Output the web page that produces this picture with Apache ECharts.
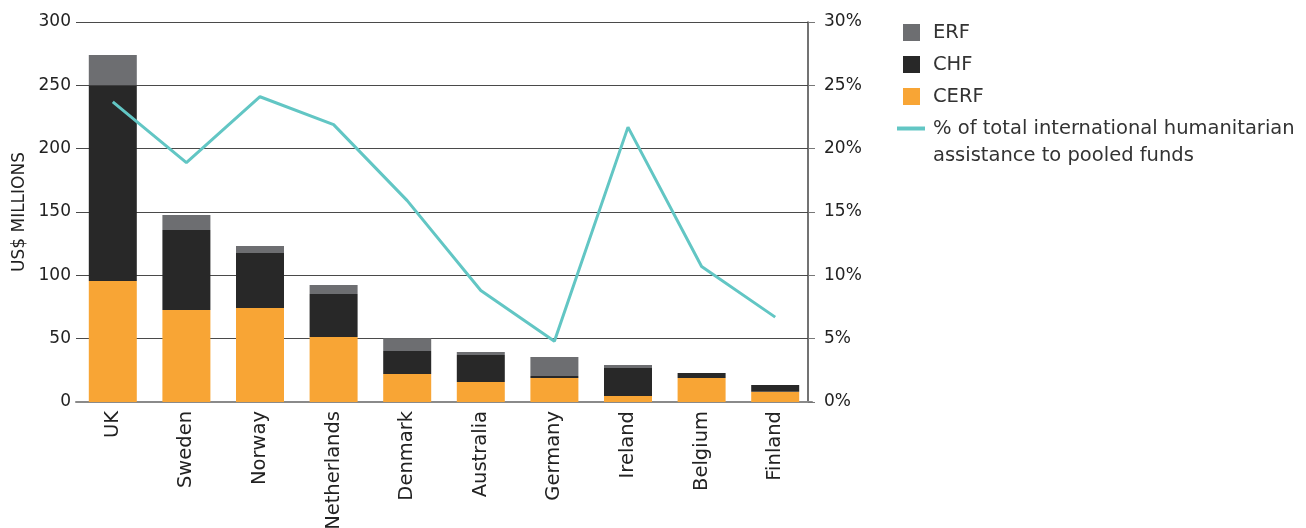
<!DOCTYPE html>
<html>
<head>
<meta charset="utf-8">
<script src="https://cdn.jsdelivr.net/npm/echarts@6/dist/echarts.min.js"></script>
<style>
  html, body { margin: 0; padding: 0; background: #fff; }
  #box { width: 1306px; height: 528px; }
</style>
</head>
<body>
<div id="box"></div>
<script>
// 数据
var countries = ["UK", "Sweden", "Norway", "Netherlands", "Denmark", "Australia", "Germany", "Ireland", "Belgium", "Finland"];
var cerf = [95.5, 72.6, 74.2, 51.3, 22.1, 15.8, 18.9, 4.7, 19, 8];
var chf = [154.5, 63.2, 43.4, 33.9, 18.2, 21.3, 1.6, 22.1, 3.9, 5.4];
var erf = [24, 11.8, 5.5, 7.1, 10, 2.4, 15, 2.4, 0, 0];
var pctPooled = [23.7, 18.9, 24.1, 21.9, 15.9, 8.8, 4.8, 21.7, 10.7, 6.7];
var lineName = "% of total international humanitarian assistance to pooled funds";

var myChart = echarts.init(document.getElementById("box"));
var font = "DejaVu Sans";

myChart.setOption({
  animation: false,
  textStyle: { fontFamily: font },
  grid: { left: 76, right: 494, top: 22, bottom: 126, containLabel: false, outerBoundsMode: "none" },
  legend: [
    {
      orient: "vertical",
      left: 903,
      top: 19,
      padding: 0,
      itemWidth: 17,
      itemHeight: 17,
      itemGap: 5,
      icon: "rect",
      data: ["ERF", "CHF", "CERF"],
      textStyle: { fontSize: 19.5, color: "#333", lineHeight: 27, padding: [0, 0, 0, 8], fontFamily: font },
    },
    {
      orient: "vertical",
      left: 897,
      top: 115,
      padding: 0,
      itemWidth: 28,
      itemHeight: 4,
      icon: "rect",
      data: [lineName],
      formatter: function () {
        return "% of total international humanitarian";
      },
      textStyle: { fontSize: 19.5, color: "#333", lineHeight: 27, padding: [0, 0, 0, 3], fontFamily: font },
    },
  ],
  graphic: [
    {
      type: "text",
      left: 933,
      top: 146,
      style: { text: "assistance to pooled funds", fontSize: 19.5, fill: "#333", fontFamily: font },
    },
  ],
  xAxis: {
    type: "category",
    data: countries,
    axisLine: { lineStyle: { color: "#8a8a8a", width: 2 } },
    axisTick: { show: false },
    axisLabel: { rotate: 90, fontSize: 19.5, color: "#222", margin: 9, fontFamily: font },
  },
  yAxis: [
    {
      type: "value",
      min: 0,
      max: 300,
      interval: 50,
      name: "US$ MILLIONS",
      nameLocation: "middle",
      nameGap: 48,
      nameTextStyle: { fontSize: 17, color: "#222", fontFamily: font },
      axisLine: { show: false },
      axisTick: { show: false },
      axisLabel: { fontSize: 17, color: "#222", margin: 5, fontFamily: font },
      splitLine: { lineStyle: { color: "#4a4a4a", width: 1 } },
    },
    {
      type: "value",
      position: "right",
      offset: -4,
      min: 0,
      max: 30,
      interval: 5,
      axisLine: { show: true, lineStyle: { color: "#444", width: 1.5 } },
      axisTick: { show: true, length: 7, lineStyle: { color: "#777" } },
      axisLabel: { formatter: "{value}%", fontSize: 17, color: "#222", margin: 16, fontFamily: font },
      splitLine: { show: false },
    },
  ],
  series: [
    {
      name: "CERF",
      type: "bar",
      stack: "funds",
      barWidth: 48,
      itemStyle: { color: "#f8a535" },
      data: cerf,
    },
    {
      name: "CHF",
      type: "bar",
      stack: "funds",
      itemStyle: { color: "#282828" },
      data: chf,
    },
    {
      name: "ERF",
      type: "bar",
      stack: "funds",
      itemStyle: { color: "#6d6e71" },
      data: erf,
    },
    {
      name: lineName,
      type: "line",
      yAxisIndex: 1,
      symbol: "none",
      lineStyle: { color: "#62c6c4", width: 3 },
      itemStyle: { color: "#62c6c4" },
      data: pctPooled,
    },
  ],
});
</script>
</body>
</html>
